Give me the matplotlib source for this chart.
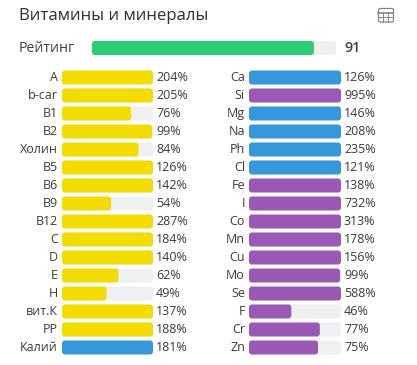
import matplotlib
matplotlib.use("Agg")
import matplotlib.pyplot as plt
from matplotlib.patches import FancyBboxPatch

plt.rcParams['font.family'] = ['Open Sans', 'DejaVu Sans']

title = "Витамины и минералы"
rating_label = "Рейтинг"
rating_value = 91

left_names = ["A", "b-car", "B1", "B2", "Холин", "B5", "B6", "B9", "B12", "C", "D", "E", "H", "вит.К", "PP", "Калий"]
left_values = [204, 205, 76, 99, 84, 126, 142, 54, 287, 184, 140, 62, 49, 137, 188, 181]
left_kinds = ["v"] * 15 + ["m"]

right_names = ["Ca", "Si", "Mg", "Na", "Ph", "Cl", "Fe", "I", "Co", "Mn", "Cu", "Mo", "Se", "F", "Cr", "Zn"]
right_values = [126, 995, 146, 208, 235, 121, 138, 732, 313, 178, 156, 99, 588, 46, 77, 75]
right_kinds = ["m", "t", "m", "m", "m", "m", "t", "t", "t", "t", "t", "t", "t", "t", "t", "t"]

COL = {"v": "#F4DC00", "m": "#3498DB", "t": "#9B59B6"}
TRACK = "#EFF0F2"
TEXT = "#3A3A3C"

W, H = 417, 365
fig = plt.figure(figsize=(W / 100, H / 100), dpi=100)
ax = fig.add_axes([0, 0, 1, 1])
ax.set_xlim(0, W)
ax.set_ylim(H, 0)
ax.axis("off")


def pill(x, yc, w, h, color, z):
    r = 3
    ax.add_patch(FancyBboxPatch((x + r, yc - h / 2 + r), max(w - 2 * r, 0.1), h - 2 * r,
                                boxstyle=f"round,pad={r},rounding_size={r}",
                                fc=color, ec="none", zorder=z))


def bar(x, yc, w, h, value, color):
    pill(x, yc, w, h, TRACK, 1)
    pill(x, yc, w * min(value, 100) / 100, h, color, 2)


ax.text(19, 15.5, title, fontsize=12.1, color="#2E2E33", va="center", ha="left", fontweight=500)
ax.text(19, 48, rating_label, fontsize=10.2, color="#3F3F44", va="center", ha="left", fontweight=500)
bar(92, 48, 244, 14, rating_value, "#2ECC71")
ax.text(344, 48, str(rating_value), fontsize=10.2, color="#3F3F44", va="center", ha="left", fontweight=600)


def column(names, values, kinds, x_bar, w_bar, x_lab, x_val):
    for i, (n, v, k) in enumerate(zip(names, values, kinds)):
        y = 77.5 + 18 * i
        bar(x_bar, y, w_bar, 14, v, COL[k])
        ax.text(x_lab, y, n, fontsize=9, color=TEXT, va="center", ha="right")
        ax.text(x_val, y, f"{v}%", fontsize=9, color=TEXT, va="center", ha="left")


column(left_names, left_values, left_kinds, 62, 91, 58, 156)
column(right_names, right_values, right_kinds, 249, 92, 245, 344)

# table icon
ic = "#85868B"
ax.add_patch(FancyBboxPatch((379, 9), 14, 12.5, boxstyle="round,pad=0.5,rounding_size=1.5",
                            fc="none", ec=ic, lw=0.9, zorder=3))
ax.plot([378.5, 393.5], [12.5, 12.5], color=ic, lw=1.2)
ax.plot([378.5, 393.5], [17, 17], color=ic, lw=0.7)
ax.plot([383.5, 383.5], [12.5, 22], color=ic, lw=0.7)
ax.plot([388.5, 388.5], [12.5, 22], color=ic, lw=0.7)

fig.savefig("out.png", dpi=100)
